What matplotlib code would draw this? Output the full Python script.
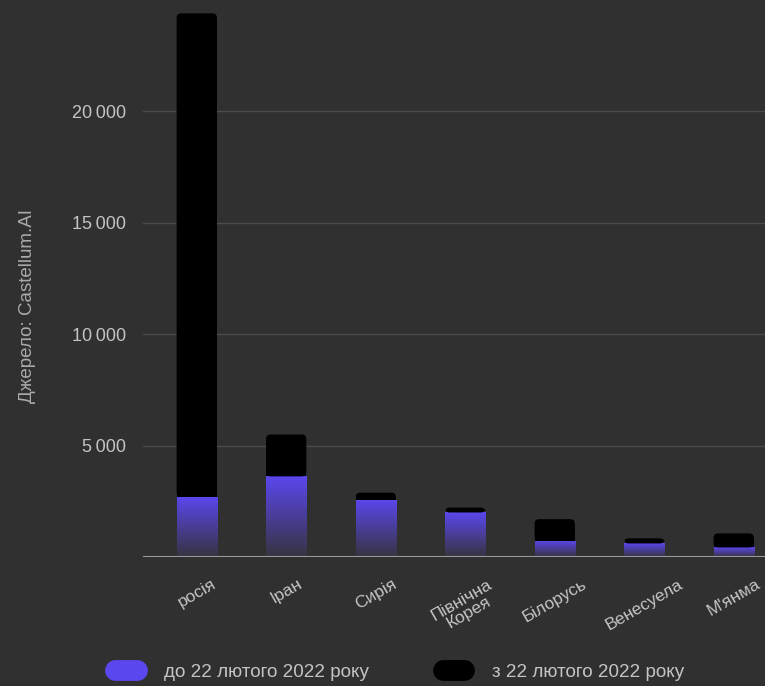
import numpy as np
import matplotlib
matplotlib.use("Agg")
import matplotlib.pyplot as plt
from matplotlib.colors import LinearSegmentedColormap
from matplotlib.lines import Line2D
from matplotlib.patches import FancyBboxPatch

plt.rcParams['font.family'] = ['Liberation Sans', 'DejaVu Sans']

countries = ["росія", "Іран", "Сирія", "Північна\nКорея", "Білорусь", "Венесуела", "М'янма"]
before = np.array([2700, 3620, 2560, 2000, 730, 610, 430])   # до 22 лютого 2022
total = np.array([24400, 5500, 2890, 2220, 1700, 840, 1060])
after = total - before                                         # з 22 лютого 2022

bg = "#303030"
purple = "#5b47ee"
txt = "#c4c4c4"

fig = plt.figure(figsize=(7.65, 6.86), dpi=100, facecolor=bg)
ax = fig.add_axes([0.187, 0.188, 0.813, 0.812])
ax.set_facecolor(bg)

x = np.arange(len(countries))
w = 0.45
xlim = (-0.6, 6.35)
ylim = (0, 25000)
ax.set_xlim(*xlim)
ax.set_ylim(*ylim)

# gradient purple part
cmap = LinearSegmentedColormap.from_list("p", ["#363440", purple])
grad = np.linspace(0, 1, 256).reshape(-1, 1)
bars = ax.bar(x, before, w, color="none", zorder=3)
for b in bars:
    x0, y0 = b.get_x(), b.get_y()
    im = ax.imshow(grad, cmap=cmap, aspect="auto", origin="lower",
                   extent=[x0, x0 + b.get_width(), y0, y0 + b.get_height()], zorder=3)
    im.set_clip_path(b)

# black part with rounded top corners
r = 0.05
asp = ((ylim[1] - ylim[0]) / (0.812 * 686)) / ((xlim[1] - xlim[0]) / (0.813 * 765))
ax.bar(x, after - r * asp, w, bottom=before, color="black", zorder=3)
for xi, b0, t in zip(x, before, total):
    ax.add_patch(FancyBboxPatch((xi - w / 2, b0), w, t - b0,
                                boxstyle=f"round,pad=0,rounding_size={r}",
                                mutation_aspect=asp, fc="black", ec="none", zorder=3))
ax.set_xlim(*xlim)
ax.set_ylim(*ylim)

ax.set_yticks([5000, 10000, 15000, 20000])
ax.set_yticklabels(["5\u2009000", "10\u2009000", "15\u2009000", "20\u2009000"])
ax.yaxis.grid(True, color="#4a4a4a", lw=1)
ax.set_axisbelow(True)
ax.axhline(0, color="#9a9a9a", lw=1.5, zorder=4)
for s in ax.spines.values():
    s.set_visible(False)
ax.tick_params(axis="y", length=0, pad=12, labelsize=13, labelcolor=txt)
ax.tick_params(axis="x", length=0, pad=14, labelsize=12.5, labelcolor=txt)
ax.set_xticks(x)
ax.set_xticklabels(countries, rotation=30, ha="center", linespacing=1.0)
ax.set_ylabel("Джерело: Castellum.AI", color="#aaaaaa", fontsize=13.5)
ax.yaxis.set_label_coords(-0.172, 0.45)

handles = [Line2D([0], [0], color=purple, lw=15, solid_capstyle="round"),
           Line2D([0], [0], color="black", lw=15, solid_capstyle="round")]
fig.legend(handles, ["до 22 лютого 2022 року", "з 22 лютого 2022 року"],
           loc="center left", bbox_to_anchor=(0.128, 0.02), ncol=2, frameon=False,
           handlelength=1.15, columnspacing=3.9, handletextpad=1.45,
           fontsize=13.6, labelcolor=txt)

fig.savefig("out.png", dpi=100, facecolor=bg)
